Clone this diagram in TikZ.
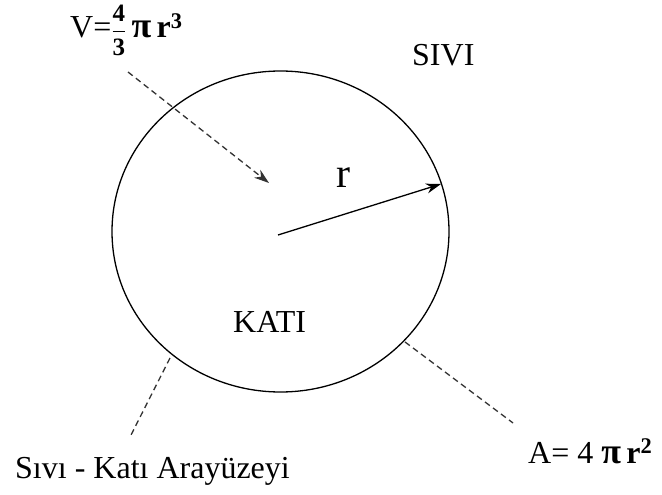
\documentclass[tikz,border=0pt]{standalone}
\usepackage{amsmath}
\usepackage{fontspec}
\setmainfont{Liberation Serif}
\usetikzlibrary{arrows.meta}
\newcommand{\smallnum}[1]{\text{\fontsize{25}{27}\selectfont\bfseries #1}}
\begin{document}
\begin{tikzpicture}[x=1pt,y=-1pt,
  lbl/.style={anchor=base west,inner sep=0pt,font=\fontsize{32}{38}\selectfont},
  dashline/.style={draw=black!80,line width=1.3pt,dash pattern=on 6pt off 4pt},
  tip/.style={-{Stealth[length=15pt,width=10pt]}}]
\useasboundingbox (0,0) rectangle (662,495);
\fill[white] (0,0) rectangle (662,495);
% circle
\draw[line width=1.3pt] (280.5,231.5) ellipse [x radius=168.5, y radius=160.5];
% points
\coordinate (c) at (278,235);
\coordinate (rim) at (441,184);
\coordinate (vs) at (128,72);
\coordinate (ve) at (269,183);
\coordinate (ls) at (170,358);
\coordinate (le) at (130,437);
\coordinate (as) at (405,342);
\coordinate (ae) at (513,423);
% labels
\node[lbl] (vol) at (70,38) {V=$\genfrac{}{}{0.9pt}{0}{\smallnum{4}}{\smallnum{3}}$\,{\fontsize{36}{40}\selectfont\textbf{π}}\,\textbf{r\textsuperscript{3}}};
\node[lbl] (sivi) at (412,66) {SIVI};
\node[lbl] (kati) at (233,332) {KATI};
\node[lbl,font=\fontsize{42}{48}\selectfont] (rlab) at (336,187) {r};
\node[lbl] (iface) at (15,478) {Sıvı - Katı Arayüzeyi};
\node[lbl] (area) at (528,463) {A= 4 {\fontsize{36}{40}\selectfont\textbf{π}}\,\textbf{r\textsuperscript{2}}};
% connectors
\draw[line width=1.3pt,tip] (c) -- (rim);
\draw[dashline,tip] (vs) -- (ve);
\draw[dashline] (ls) -- (le);
\draw[dashline] (as) -- (ae);
\end{tikzpicture}
\end{document}
